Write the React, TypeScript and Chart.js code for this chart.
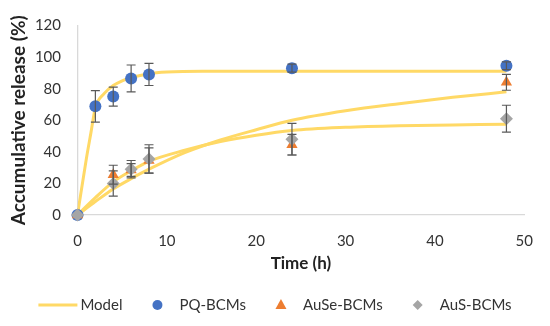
import React, { useEffect, useRef } from "react";
import { Chart, registerables } from "chart.js";

Chart.register(...registerables);

// ---- Data ----
const timesPQ = [0, 2, 4, 6, 8, 24, 48];
const pqValues = [0, 68.8, 75, 86.5, 89, 93, 94.5];
const pqErrors = [0, 10, 6, 8.5, 7, 2.5, 2.5];

const timesAu = [0, 4, 6, 8, 24, 48];
const auseValues = [0, 25.5, 28.5, 34.5, 44.5, 84];
const auseErrors = [0, 6, 4, 8, 6.5, 5];
const ausValues = [0, 20, 29, 35.5, 48, 61];
const ausErrors = [0, 8, 5.5, 9, 10, 8.5];

const pqModelT = [0, 1, 1.5, 2, 3, 4, 5, 6, 8, 10, 14, 24, 48];
const pqModelY = [0, 36, 52, 68, 77, 82, 85, 87, 89.5, 90.5, 91, 91, 91];
const auModelT = [0, 2, 4, 6, 8, 12, 16, 20, 24, 30, 36, 42, 48];
const auseModelY = [0, 8.5, 16.5, 23, 29, 39.5, 47.5, 54, 60, 66, 70.5, 74.5, 78];
const ausModelY = [0, 11, 21, 28, 34, 41, 46.5, 50.5, 53.5, 55.5, 56.5, 57, 57.5];

const xTicks = [0, 10, 20, 30, 40, 50];
const yTicks = [0, 20, 40, 60, 80, 100, 120];

const legendLabels = ["Model", "PQ-BCMs", "AuSe-BCMs", "AuS-BCMs"];

const FONT = "Lato, 'Open Sans', sans-serif";
const YELLOW = "#FFD966";
const BLUE = "#4472C4";
const ORANGE = "#ED7D31";
const GRAY = "#A5A5A5";

const pts = (xs: number[], ys: number[]) => xs.map((x, i) => ({ x, y: ys[i] }));

const errorBarPlugin = {
  id: "errorBars",
  afterDatasetsDraw(chart: any) {
    const { ctx, scales } = chart;
    const x = scales.x;
    const y = scales.y;
    const sets = [
      { t: timesPQ, v: pqValues, e: pqErrors },
      { t: timesAu, v: auseValues, e: auseErrors },
      { t: timesAu, v: ausValues, e: ausErrors },
    ];
    ctx.save();
    ctx.strokeStyle = "#595959";
    ctx.lineWidth = 1.2;
    sets.forEach((s) => {
      s.t.forEach((t, i) => {
        const err = s.e[i];
        if (!err) return;
        const px = x.getPixelForValue(t);
        const top = y.getPixelForValue(s.v[i] + err);
        const bot = y.getPixelForValue(s.v[i] - err);
        ctx.beginPath();
        ctx.moveTo(px, top);
        ctx.lineTo(px, bot);
        ctx.moveTo(px - 4.5, top);
        ctx.lineTo(px + 4.5, top);
        ctx.moveTo(px - 4.5, bot);
        ctx.lineTo(px + 4.5, bot);
        ctx.stroke();
      });
    });
    ctx.restore();
  },
};

const legendPlugin = {
  id: "customLegend",
  afterDraw(chart: any) {
    const { ctx, width } = chart;
    const yc = 305;
    ctx.save();
    ctx.font = `15px ${FONT}`;
    ctx.textBaseline = "middle";
    ctx.fillStyle = "#333";
    const lineLen = 39;
    const markerGap = 22; // marker centre to text
    const itemGap = 35; // text end to next marker centre
    const widths = legendLabels.map((l) => ctx.measureText(l).width);
    let total = lineLen + 3 + widths[0];
    for (let i = 1; i < legendLabels.length; i++) total += itemGap + markerGap + widths[i];
    let cx = (width - total) / 2;
    // Model line
    ctx.strokeStyle = YELLOW;
    ctx.lineWidth = 3;
    ctx.beginPath();
    ctx.moveTo(cx, yc);
    ctx.lineTo(cx + lineLen, yc);
    ctx.stroke();
    ctx.fillText(legendLabels[0], cx + lineLen + 3, yc);
    cx += lineLen + 3 + widths[0];
    const styles = [
      { s: "circle", c: BLUE },
      { s: "triangle", c: ORANGE },
      { s: "rectRot", c: GRAY },
    ];
    styles.forEach((st, k) => {
      const mx = cx + itemGap;
      ctx.fillStyle = st.c;
      ctx.beginPath();
      const r = 5;
      if (st.s === "circle") {
        ctx.arc(mx, yc, r, 0, Math.PI * 2);
      } else if (st.s === "triangle") {
        ctx.moveTo(mx, yc - r - 1);
        ctx.lineTo(mx + r + 0.5, yc + r - 1);
        ctx.lineTo(mx - r - 0.5, yc + r - 1);
        ctx.closePath();
      } else {
        ctx.moveTo(mx, yc - r);
        ctx.lineTo(mx + r, yc);
        ctx.lineTo(mx, yc + r);
        ctx.lineTo(mx - r, yc);
        ctx.closePath();
      }
      ctx.fill();
      ctx.fillStyle = "#333";
      ctx.fillText(legendLabels[k + 1], mx + markerGap, yc);
      cx = mx + markerGap + widths[k + 1];
    });
    ctx.restore();
  },
};

export default function App() {
  const ref = useRef<HTMLCanvasElement | null>(null);
  useEffect(() => {
    document.body.style.margin = "0";
    if (!ref.current) return;
    const modelStyle = {
      type: "line" as const,
      showLine: true,
      borderColor: YELLOW,
      backgroundColor: YELLOW,
      borderWidth: 3,
      pointRadius: 0,
      cubicInterpolationMode: "monotone" as const,
      fill: false,
      order: 5,
    };
    const chart = new Chart(ref.current, {
      type: "scatter",
      data: {
        datasets: [
          { ...modelStyle, label: "Model", data: pts(pqModelT, pqModelY) },
          { ...modelStyle, label: "Model AuSe", data: pts(auModelT, auseModelY) },
          { ...modelStyle, label: "Model AuS", data: pts(auModelT, ausModelY) },
          {
            label: "PQ-BCMs",
            data: pts(timesPQ, pqValues),
            pointStyle: "circle",
            pointRadius: 6,
            backgroundColor: BLUE,
            borderColor: BLUE,
            borderWidth: 0,
            clip: false,
            order: 3,
          },
          {
            label: "AuSe-BCMs",
            data: pts(timesAu, auseValues),
            pointStyle: "triangle",
            pointRadius: 6.5,
            backgroundColor: ORANGE,
            borderColor: ORANGE,
            borderWidth: 0,
            clip: false,
            order: 2,
          },
          {
            label: "AuS-BCMs",
            data: pts(timesAu, ausValues),
            pointStyle: "rectRot",
            pointRadius: 6.5,
            backgroundColor: GRAY,
            borderColor: GRAY,
            borderWidth: 0,
            clip: false,
            order: 1,
          },
        ],
      } as any,
      options: {
        animation: false,
        responsive: false,
        maintainAspectRatio: false,
        layout: { padding: { top: 19, right: 18.3, bottom: 50, left: 0 } },
        plugins: { legend: { display: false }, tooltip: { enabled: false } },
        scales: {
          x: {
            type: "linear",
            min: 0,
            max: 50,
            afterBuildTicks: (s: any) => {
              s.ticks = xTicks.map((v) => ({ value: v }));
            },
            afterFit: (s: any) => {
              s.height = 61;
            },
            grid: { drawOnChartArea: false, drawTicks: false },
            border: { display: true, color: "#D9D9D9", width: 1.3 },
            ticks: { padding: 17, color: "#333", font: { family: FONT, size: 15 } },
            title: {
              display: true,
              text: "Time (h)",
              color: "#222",
              font: { family: FONT, size: 17, weight: "bold" },
              padding: { top: 0, bottom: 2 },
            },
          },
          y: {
            type: "linear",
            min: 0,
            max: 120,
            afterBuildTicks: (s: any) => {
              s.ticks = yTicks.map((v) => ({ value: v }));
            },
            afterFit: (s: any) => {
              s.width = 77.5;
            },
            grid: { drawOnChartArea: false, drawTicks: false },
            border: { display: true, color: "#D9D9D9", width: 1.3 },
            ticks: { padding: 16.5, color: "#333", font: { family: FONT, size: 15 } },
            title: {
              display: true,
              text: "Accumulative release (%)",
              color: "#222",
              font: { family: FONT, size: 19, weight: "bold" },
              padding: { top: 7, bottom: 0 },
            },
          },
        },
      } as any,
      plugins: [errorBarPlugin, legendPlugin],
    });
    return () => chart.destroy();
  }, []);
  return (
    <div style={{ width: 550, height: 326 }}>
      <canvas ref={ref} width={550} height={326} style={{ display: "block" }} />
    </div>
  );
}
